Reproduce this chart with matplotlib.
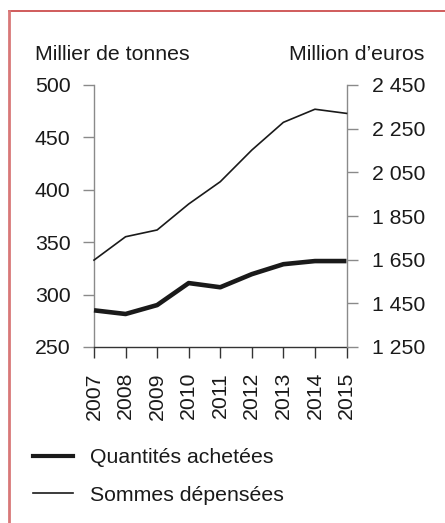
import matplotlib
matplotlib.use("Agg")
import matplotlib.pyplot as plt
from matplotlib.lines import Line2D

years = [2007, 2008, 2009, 2010, 2011, 2012, 2013, 2014, 2015]
quantites = [285, 281.5, 290, 311, 307, 319.5, 329, 332, 332]
sommes = [1648, 1755, 1786, 1905, 2007, 2152, 2279, 2339, 2320]
left_ticks = [250, 300, 350, 400, 450, 500]
right_ticks = [1250, 1450, 1650, 1850, 2050, 2250, 2450]
right_labels = ["1 250", "1 450", "1 650", "1 850", "2 050", "2 250", "2 450"]
label_q = "Quantités achetées"
label_s = "Sommes dépensées"
title_left = "Millier de tonnes"
title_right = "Million d’euros"

plt.rcParams['font.family'] = ['Liberation Sans', 'DejaVu Sans']
FS = 15.3
W, H = 445, 523
fig = plt.figure(figsize=(W / 100, H / 100), dpi=100)

def fx(px):
    return px / W

def fy(py):
    return 1 - py / H

ax = fig.add_axes([fx(94), fy(347), fx(346.5) - fx(94), fy(85) - fy(347)])
ax2 = ax.twinx()

ink = '#1a1a1a'
grey = '#8a8a8a'

ax.plot(years, quantites, color=ink, lw=3.3, solid_capstyle='butt', solid_joinstyle='round', clip_on=False, zorder=3)
ax2.plot(years, sommes, color=ink, lw=1.2, solid_joinstyle='round', clip_on=False, zorder=3)

ax.set_xlim(2007, 2015)
ax.set_ylim(250, 500)
ax2.set_ylim(1250, 2450)
ax.set_xticks(years)
ax.set_xticklabels([str(y) for y in years], rotation=90, fontsize=FS, color=ink)
ax.set_yticks(left_ticks)
ax.set_yticklabels([str(v) for v in left_ticks], fontsize=FS, color=ink)
ax2.set_yticks(right_ticks)
ax2.set_yticklabels(right_labels, fontsize=FS, color=ink)

for a in (ax, ax2):
    a.spines['top'].set_visible(False)
    a.patch.set_visible(False)
ax.spines['right'].set_visible(False)
ax2.spines['left'].set_visible(False)
ax2.spines['bottom'].set_visible(False)
ax.spines['left'].set_color(grey)
ax2.spines['right'].set_color(grey)
ax.spines['bottom'].set_color('#333333')
for s in ('left', 'bottom'):
    ax.spines[s].set_linewidth(1.0)
ax2.spines['right'].set_linewidth(1.0)

ax.tick_params(axis='y', length=8, width=1.0, color=grey, pad=9)
ax.tick_params(axis='x', length=8, width=1.0, color='#333333', pad=10)
ax2.tick_params(axis='y', length=8, width=1.0, color=grey, pad=10)

fig.text(fx(35), fy(60), title_left, fontsize=FS, color=ink, ha='left', va='baseline')
fig.text(fx(424), fy(60), title_right, fontsize=FS, color=ink, ha='right', va='baseline')

handles = [Line2D([], [], color=ink, lw=3.0), Line2D([], [], color=ink, lw=1.2)]
fig.legend(handles, [label_q, label_s], loc='upper left', bbox_to_anchor=(fx(33), fy(448)),
           frameon=False, fontsize=FS, handlelength=1.9, handletextpad=0.8,
           labelspacing=0.88, borderpad=0, borderaxespad=0, labelcolor=ink)

# frame
fig.add_artist(Line2D([fx(9), fx(445)], [fy(11), fy(11)], color='#c84040', lw=1.2))
fig.add_artist(Line2D([fx(9), fx(9)], [fy(11), fy(523)], color='#d87878', lw=2.0))

fig.savefig('out.png', dpi=100)
